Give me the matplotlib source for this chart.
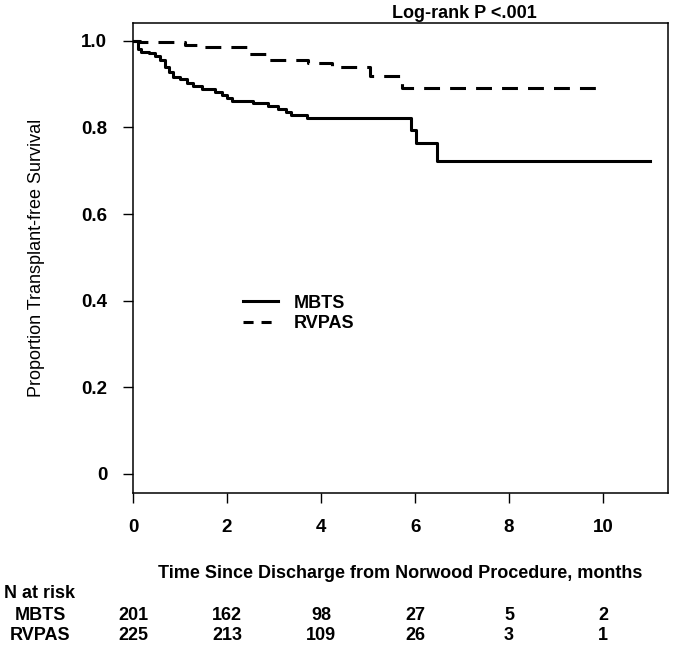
import matplotlib
matplotlib.use("Agg")
import matplotlib.pyplot as plt
from matplotlib.lines import Line2D
from matplotlib.transforms import blended_transform_factory

plt.rcParams["font.family"] = ["Liberation Sans", "DejaVu Sans"]
plt.rcParams["font.size"] = 13

# Kaplan-Meier step points (time in months, survival)
mbts_time = [0, 0.11, 0.18, 0.33, 0.47, 0.57, 0.68, 0.76, 0.85, 1.0, 1.14, 1.28,
             1.46, 1.74, 1.89, 1.99, 2.10, 2.56, 2.88, 3.09, 3.25, 3.37, 3.70,
             5.92, 6.02, 6.47]
mbts_surv = [1.0, 0.982, 0.975, 0.971, 0.965, 0.955, 0.94, 0.928, 0.917, 0.911,
             0.903, 0.895, 0.888, 0.882, 0.875, 0.867, 0.862, 0.856, 0.849, 0.842,
             0.836, 0.828, 0.821, 0.794, 0.764, 0.723]
mbts_end = 11.0

rvpas_time = [0, 0.15, 1.11, 1.43, 2.42, 2.88, 3.73, 4.24, 5.04, 5.72]
rvpas_surv = [1.0, 0.996, 0.990, 0.986, 0.969, 0.955, 0.948, 0.939, 0.918, 0.891]
rvpas_end = 10.0

risk_times = [0, 2, 4, 6, 8, 10]
mbts_risk = [201, 162, 98, 27, 5, 2]
rvpas_risk = [225, 213, 109, 26, 3, 1]

fig = plt.figure(figsize=(6.75, 6.5), dpi=100)
ax = fig.add_axes([133 / 675, 1 - 493 / 650, 535 / 675, 470 / 650])

lw = 2.2
ax.step(mbts_time + [mbts_end], mbts_surv + [mbts_surv[-1]], where="post",
        color="black", linewidth=lw)
ax.step(rvpas_time + [rvpas_end], rvpas_surv + [rvpas_surv[-1]], where="post",
        color="black", linewidth=lw, linestyle=(0, (5.2, 3.3)))

ax.set_xlim(0, 11.38)
ax.set_ylim(-0.044, 1.041)
ax.set_xticks(risk_times)
ax.set_yticks([0, 0.2, 0.4, 0.6, 0.8, 1.0])
ax.set_yticklabels(["0", "0.2", "0.4", "0.6", "0.8", "1.0"])
ax.tick_params(direction="out", length=7.5, width=1.0, pad=11, labelsize=13.5)
for lab in ax.get_xticklabels() + ax.get_yticklabels():
    lab.set_fontweight("bold")
for sp in ax.spines.values():
    sp.set_linewidth(1.1)

ax.set_ylabel("Proportion Transplant-free Survival", fontsize=13)
ax.yaxis.set_label_coords(-0.164, 0.5)
ax.set_xlabel("Time Since Discharge from Norwood Procedure, months",
              fontsize=13, fontweight="bold")
ax.xaxis.set_label_coords(0.5, -0.153)

handles = [Line2D([], [], color="black", linewidth=lw),
           Line2D([], [], color="black", linewidth=lw, linestyle=(0, (3.3, 2.6)))]
ax.legend(handles, ["MBTS", "RVPAS"], loc="upper left",
          bbox_to_anchor=(0.206, 0.422), frameon=False, borderpad=0,
          borderaxespad=0, handlelength=1.9, handletextpad=0.9,
          labelspacing=0.2, prop={"weight": "bold", "size": 13})

fig.text(392 / 675, 1 - 18 / 650, "Log-rank P <.001", fontsize=13,
         fontweight="bold", ha="left", va="baseline")

# number at risk table
tr = blended_transform_factory(ax.transData, fig.transFigure)
fig.text(4 / 675, 1 - 593 / 650, "N at risk", fontsize=13, fontweight="bold",
         ha="left", va="center")
fig.text(40 / 675, 1 - 615 / 650, "MBTS", fontsize=13, fontweight="bold",
         ha="center", va="center")
fig.text(40 / 675, 1 - 635 / 650, "RVPAS", fontsize=13, fontweight="bold",
         ha="center", va="center")
for t, n1, n2 in zip(risk_times, mbts_risk, rvpas_risk):
    ax.text(t, 1 - 615 / 650, str(n1), transform=tr, fontsize=13,
            fontweight="bold", ha="center", va="center")
    ax.text(t, 1 - 635 / 650, str(n2), transform=tr, fontsize=13,
            fontweight="bold", ha="center", va="center")

fig.savefig("out.png", dpi=100)
